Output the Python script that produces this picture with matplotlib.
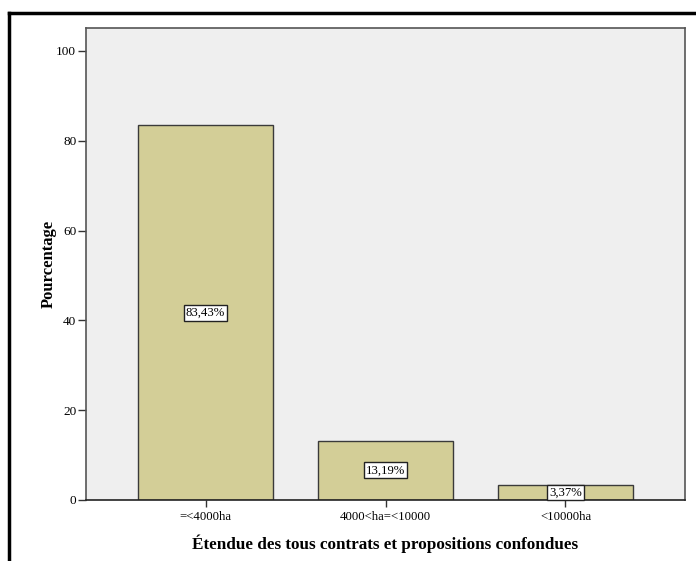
import matplotlib
matplotlib.use("Agg")
import matplotlib.pyplot as plt
from matplotlib.lines import Line2D

categories = ["=<4000ha", "4000<ha=<10000", "<10000ha"]
values = [83.43, 13.19, 3.37]
labels = ["83,43%", "13,19%", "3,37%"]
yticks = [0, 20, 40, 60, 80, 100]

plt.rcParams['font.family'] = ['Liberation Serif', 'DejaVu Serif']

W, H = 696, 561
fig = plt.figure(figsize=(W/100, H/100), dpi=100)
ax = fig.add_axes([86/W, 1-500/H, (685-86)/W, (500-28)/H])
ax.set_facecolor('#EFEFEF')

x = list(range(len(categories)))
ax.bar(x, values, width=0.75, color='#D3CE97', edgecolor='#3a3a3a', linewidth=1.0, zorder=2)
for xi, v, lab in zip(x, values, labels):
    ax.text(xi, v/2, lab, ha='center', va='center', fontsize=9.2, zorder=3,
            bbox=dict(boxstyle='square,pad=0.15', facecolor='white', edgecolor='#222222', linewidth=1))

ax.set_xlim(-0.664, 2.664)
ax.set_ylim(0, 105.1)
ax.set_yticks(yticks)
ax.set_xticks(x)
ax.set_xticklabels(categories, fontsize=9.2)
ax.tick_params(axis='y', labelsize=9.5, length=6, width=1, direction='out', color='#333333', pad=1)
ax.tick_params(axis='x', length=5, width=1, direction='out', color='#333333', pad=3)
for s in ax.spines.values():
    s.set_color('#555555')
    s.set_linewidth(1.2)
ax.spines['bottom'].set_color('#222222')

ax.set_ylabel('Pourcentage', fontsize=12, fontweight='bold', labelpad=0)
ax.set_xlabel('Étendue des tous contrats et propositions confondues', fontsize=12.3, fontweight='bold', labelpad=8)

fig.add_artist(Line2D([9/W, 9/W], [0, 1-13/H], color='black', linewidth=2.5, transform=fig.transFigure))
fig.add_artist(Line2D([9/W, 1], [1-13/H, 1-13/H], color='black', linewidth=2.5, transform=fig.transFigure))

fig.savefig('out.png', dpi=100)
